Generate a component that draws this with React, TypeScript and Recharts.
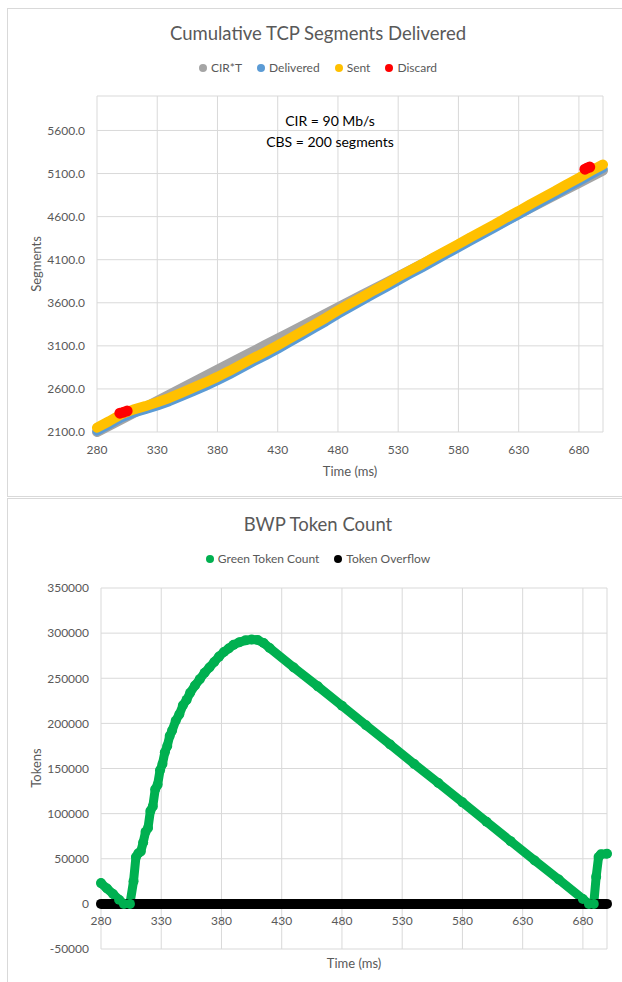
import React from 'react';
import { ComposedChart, Line, Scatter, XAxis, YAxis, CartesianGrid } from 'recharts';

const FONT = 'Lato, "Open Sans", sans-serif';
const TEXT = '#595959';
const GRID = '#d9d9d9';

// ---- Cumulative TCP segments ----
const timeTicks = [280, 330, 380, 430, 480, 530, 580, 630, 680];
const segmentTicks = [2100, 2600, 3100, 3600, 4100, 4600, 5100, 5600];

const cirTimes = [280, 300, 320, 340, 360, 380, 400, 420, 440, 460, 480, 500, 520, 540, 560, 580, 600, 620, 640, 660, 680, 700];
const cirValues = [2100, 2245, 2389, 2534, 2678, 2823, 2967, 3112, 3256, 3401, 3545, 3690, 3834, 3979, 4123, 4268, 4412, 4557, 4701, 4846, 4990, 5135];

const sentTimes = [
  280, 290, 300, 310, 320, 330, 340, 350, 360, 370, 380, 390, 400, 410, 420, 430, 440, 450, 460, 470, 480, 490,
  500, 510, 520, 530, 540, 550, 560, 570, 580, 590, 600, 610, 620, 630, 640, 650, 660, 670, 680, 690, 700,
];
const sentValues = [
  2150, 2225, 2305, 2360, 2400, 2445, 2495, 2555, 2615, 2675, 2740, 2810, 2885, 2960, 3030, 3105, 3185, 3265, 3345, 3425, 3510, 3590,
  3665, 3745, 3820, 3900, 3975, 4050, 4130, 4205, 4280, 4360, 4435, 4510, 4590, 4665, 4745, 4820, 4895, 4975, 5050, 5130, 5205,
];
const deliveredValues = [
  2110, 2185, 2262, 2318, 2358, 2402, 2452, 2512, 2570, 2630, 2695, 2765, 2840, 2915, 2985, 3060, 3140, 3220, 3300, 3380, 3465, 3545,
  3622, 3700, 3777, 3855, 3932, 4007, 4085, 4162, 4237, 4315, 4392, 4467, 4545, 4622, 4700, 4777, 4852, 4930, 5007, 5085, 5160,
];

const discardTimes = [299, 302, 305, 685, 687, 689];
const discardValues = [2318, 2330, 2345, 5150, 5165, 5175];

// ---- BWP token bucket ----
const tokenTicks = [-50000, 0, 50000, 100000, 150000, 200000, 250000, 300000, 350000];
const TOKEN_MIN = -50000;
const TOKEN_MAX = 350000;

const tokenTimes = [
  280, 285, 290, 295, 299, 304, 307, 309, 311, 313, 315, 317, 319, 321, 323, 325, 327, 329, 331, 333, 335, 337, 339,
  342, 345, 348, 351, 354, 358, 362, 366, 370, 374, 378, 382, 386, 390, 395, 400, 405, 410, 415, 420, 440, 460, 480,
  500, 520, 540, 560, 580, 600, 620, 640, 660, 680, 685, 689, 691, 693, 695, 700,
];
const tokenValues = [
  23000, 17000, 11000, 4500, 0, 0, 25000, 52000, 56000, 58000, 68000, 80000, 84000, 103000, 108000, 127000, 132000, 148000, 155000, 168000, 175000, 186000, 192000,
  203000, 210000, 220000, 226000, 234000, 242000, 249000, 256000, 262000, 268000, 274000, 279000, 283000, 287000, 290000, 292000, 293000, 292500, 289000, 283500, 262000, 241000, 219500,
  198000, 176500, 155000, 134000, 112500, 91000, 69500, 48000, 27000, 5500, 0, 0, 30000, 52000, 55000, 55500,
];

const overflowTimes = [280, 700];
const overflowValues = [0, 0];

const zip = (ts: number[], vs: number[]) => ts.map((t, i) => ({ t, v: vs[i] }));

const cirData = zip(cirTimes, cirValues);
const sentData = zip(sentTimes, sentValues);
const deliveredData = zip(sentTimes, deliveredValues);
const discardData = zip(discardTimes, discardValues);
const tokenData = zip(tokenTimes, tokenValues);
const overflowData = zip(overflowTimes, overflowValues);

const tickStyle = { fill: TEXT, fontSize: 12, fontFamily: FONT };

type LegendItem = { name: string; color: string };

function LegendRow({ items, top }: { items: LegendItem[]; top: number }) {
  return (
    <div
      style={{
        position: 'absolute',
        top,
        left: 0,
        width: '100%',
        display: 'flex',
        justifyContent: 'center',
        gap: 15,
        fontSize: 12,
        color: TEXT,
        fontFamily: FONT,
        lineHeight: '14px',
      }}
    >
      {items.map((it) => (
        <span key={it.name} style={{ display: 'flex', alignItems: 'center' }}>
          <span
            style={{ width: 8, height: 8, borderRadius: '50%', background: it.color, marginRight: 4, display: 'inline-block' }}
          />
          {it.name}
        </span>
      ))}
    </div>
  );
}

const boxStyle = (top: number, height: number): React.CSSProperties => ({
  position: 'absolute',
  left: 7,
  top,
  width: 622,
  height,
  border: `1px solid ${GRID}`,
  boxSizing: 'border-box',
  background: '#fff',
});

const titleStyle = (top: number): React.CSSProperties => ({
  position: 'absolute',
  top,
  left: 0,
  width: '100%',
  textAlign: 'center',
  fontSize: 18.5,
  color: TEXT,
  fontFamily: FONT,
  lineHeight: '22px',
});

const axisTitle: React.CSSProperties = {
  position: 'absolute',
  fontSize: 13,
  color: TEXT,
  fontFamily: FONT,
  lineHeight: '16px',
  whiteSpace: 'nowrap',
};

// x-axis labels of the token chart sit just under the zero line
const TOKEN_PLOT_H = 361;
const zeroOffset = (TOKEN_PLOT_H * (0 - TOKEN_MIN)) / (TOKEN_MAX - TOKEN_MIN);

const ZeroLineTick = (props: any) => {
  const { x, y, payload } = props;
  return (
    <text x={x} y={y - zeroOffset} dy="0.71em" textAnchor="middle" fill={TEXT} fontSize={12} fontFamily={FONT}>
      {payload.value}
    </text>
  );
};

export default function App() {
  return (
    <div style={{ position: 'absolute', left: 0, top: 0, width: 622, height: 982, background: '#fff', overflow: 'hidden' }}>
      {/* Cumulative TCP Segments Delivered */}
      <div style={boxStyle(8, 489)}>
        <div style={titleStyle(13)}>Cumulative TCP Segments Delivered</div>
        <LegendRow
          top={52}
          items={[
            { name: 'CIR*T', color: '#a5a5a5' },
            { name: 'Delivered', color: '#5b9bd5' },
            { name: 'Sent', color: '#ffc000' },
            { name: 'Discard', color: '#ff0000' },
          ]}
        />
      </div>
      <div style={{ position: 'absolute', left: 0, top: 0 }}>
        <ComposedChart width={622} height={494} margin={{ top: 96, right: 19, bottom: 32, left: 37 }}>
          <CartesianGrid stroke={GRID} strokeWidth={1} />
          <XAxis
            dataKey="t"
            type="number"
            domain={[280, 700]}
            ticks={timeTicks}
            axisLine={false}
            tickLine={false}
            tickSize={0}
            tickMargin={13}
            height={30}
            tick={tickStyle}
          />
          <YAxis
            dataKey="v"
            type="number"
            domain={[2100, 6000]}
            ticks={segmentTicks}
            axisLine={false}
            tickLine={false}
            tickSize={0}
            tickMargin={12}
            width={60}
            tick={tickStyle}
            tickFormatter={(v: number) => v.toFixed(1)}
          />
          <Line data={cirData} dataKey="v" type="linear" stroke="#a5a5a5" strokeWidth={10} strokeLinecap="round" strokeLinejoin="round" dot={false} isAnimationActive={false} />
          <Line data={deliveredData} dataKey="v" type="linear" stroke="#5b9bd5" strokeWidth={9} strokeLinecap="round" strokeLinejoin="round" dot={false} isAnimationActive={false} />
          <Line data={sentData} dataKey="v" type="linear" stroke="#ffc000" strokeWidth={10} strokeLinecap="round" strokeLinejoin="round" dot={false} isAnimationActive={false} />
          <Scatter
            data={discardData}
            dataKey="v"
            isAnimationActive={false}
            shape={(p: any) => <circle cx={p.cx} cy={p.cy} r={5.5} fill="#ff0000" />}
          />
        </ComposedChart>
      </div>
      <div style={{ ...axisTitle, left: 350, top: 463, transform: 'translateX(-50%)' }}>Time (ms)</div>
      <div style={{ ...axisTitle, left: 36, top: 264, transform: 'translate(-50%, -50%) rotate(-90deg)' }}>Segments</div>
      <div
        style={{
          position: 'absolute',
          left: 330,
          top: 110,
          transform: 'translateX(-50%)',
          textAlign: 'center',
          fontSize: 14,
          lineHeight: '21px',
          color: '#000',
          fontFamily: FONT,
          whiteSpace: 'nowrap',
        }}
      >
        CIR = 90 Mb/s
        <br />
        CBS = 200 segments
      </div>

      {/* BWP Token Count */}
      <div style={boxStyle(498, 490)}>
        <div style={titleStyle(14)}>BWP Token Count</div>
        <LegendRow
          top={53}
          items={[
            { name: 'Green Token Count', color: '#00b050' },
            { name: 'Token Overflow', color: '#000000' },
          ]}
        />
      </div>
      <div style={{ position: 'absolute', left: 0, top: 498 }}>
        <ComposedChart width={622} height={486} margin={{ top: 90, right: 15, bottom: 5, left: 41 }}>
          <CartesianGrid stroke={GRID} strokeWidth={1} />
          <XAxis
            dataKey="t"
            type="number"
            domain={[280, 700]}
            ticks={timeTicks}
            axisLine={false}
            tickLine={false}
            tickSize={0}
            tickMargin={13}
            height={30}
            tick={<ZeroLineTick />}
          />
          <YAxis
            dataKey="v"
            type="number"
            domain={[TOKEN_MIN, TOKEN_MAX]}
            ticks={tokenTicks}
            axisLine={false}
            tickLine={false}
            tickSize={0}
            tickMargin={12}
            width={60}
            tick={tickStyle}
          />
          <Line
            data={tokenData}
            dataKey="v"
            type="linear"
            stroke="#00b050"
            strokeWidth={9}
            strokeLinecap="round"
            strokeLinejoin="round"
            dot={{ r: 5, fill: '#00b050', stroke: 'none' }}
            isAnimationActive={false}
          />
          <Line data={overflowData} dataKey="v" type="linear" stroke="#000000" strokeWidth={10} strokeLinecap="round" dot={false} isAnimationActive={false} />
        </ComposedChart>
      </div>
      <div style={{ ...axisTitle, left: 354, top: 955, transform: 'translateX(-50%)' }}>Time (ms)</div>
      <div style={{ ...axisTitle, left: 36, top: 768, transform: 'translate(-50%, -50%) rotate(-90deg)' }}>Tokens</div>
    </div>
  );
}
